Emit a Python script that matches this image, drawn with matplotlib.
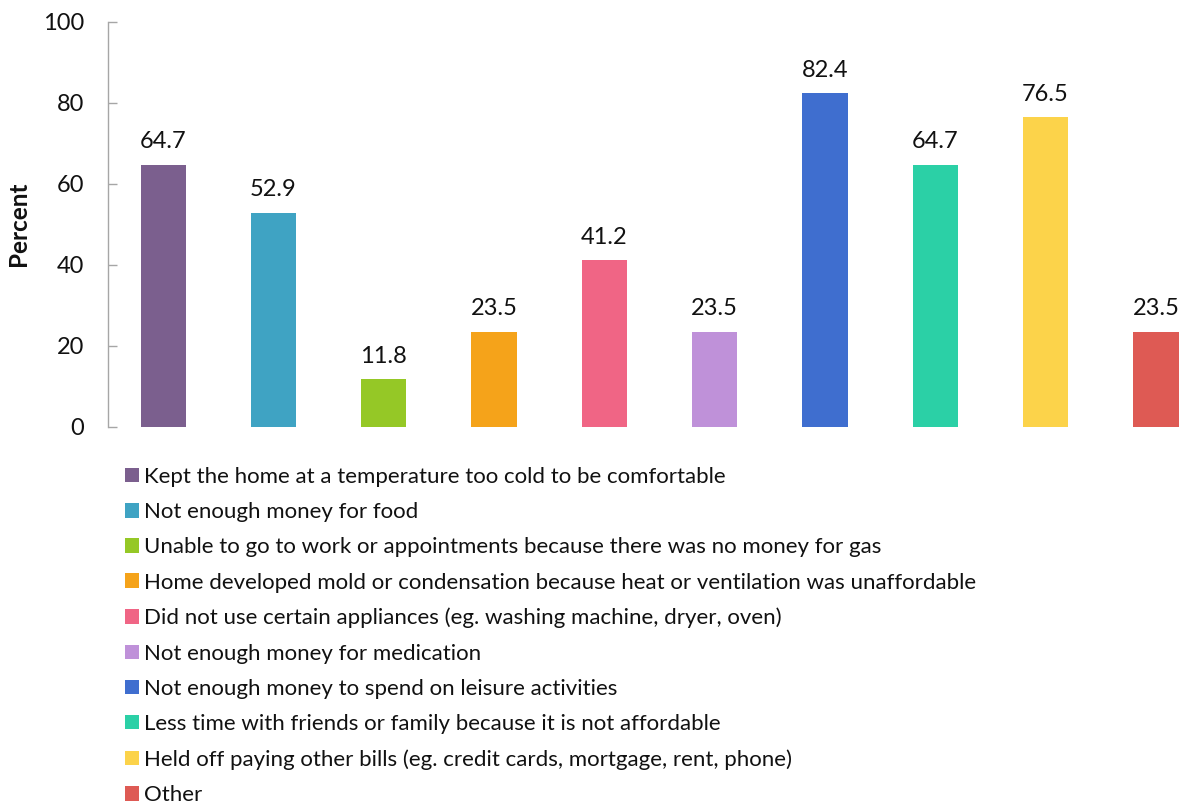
import matplotlib.pyplot as plt
from matplotlib.patches import Patch

# ── Data ──────────────────────────────────────────────────────────────────────
categories = [
    "Kept the home at a temperature too cold to be comfortable",
    "Not enough money for food",
    "Unable to go to work or appointments because there was no money for gas",
    "Home developed mold or condensation because heat or ventilation was unaffordable",
    "Did not use certain appliances (eg. washing machine, dryer, oven)",
    "Not enough money for medication",
    "Not enough money to spend on leisure activities",
    "Less time with friends or family because it is not affordable",
    "Held off paying other bills (eg. credit cards, mortgage, rent, phone)",
    "Other",
]
percent = [64.7, 52.9, 11.8, 23.5, 41.2, 23.5, 82.4, 64.7, 76.5, 23.5]
colors = [
    "#7B5F8E", "#3FA3C3", "#95C826", "#F5A31A", "#F06585",
    "#BF91D9", "#3F6ECF", "#2BD0A6", "#FCD34A", "#DE5A54",
]
yticks = [0, 20, 40, 60, 80, 100]

FONT = ["Lato", "DejaVu Sans"]
plt.rcParams["font.family"] = FONT

# ── Figure ────────────────────────────────────────────────────────────────────
W, H = 1191, 806
fig = plt.figure(figsize=(W / 100, H / 100), dpi=100, facecolor="white")
ax = fig.add_axes([108 / W, 1 - 427 / H, 1081 / W, 405 / H])

x = list(range(len(percent)))
bars = ax.bar(x, percent, width=0.41, color=colors, zorder=2)

for xi, v in zip(x, percent):
    ax.annotate(f"{v:.1f}", (xi, v), xytext=(0, 9), textcoords="offset points",
                ha="center", va="bottom", fontsize=17, color="#111111")

ax.set_xlim(-0.5, 9.3)
ax.set_ylim(0, 100)
ax.set_yticks(yticks)
ax.set_xticks([])
ax.tick_params(axis="y", direction="in", length=6.5, width=1, color="#A6A6A6",
               labelsize=17, pad=17, labelcolor="#111111")
for side in ["top", "right", "bottom"]:
    ax.spines[side].set_visible(False)
ax.spines["left"].set_color("#A6A6A6")
ax.spines["left"].set_linewidth(1)

fig.text(18 / W, 1 - 224 / H, "Percent", rotation=90, ha="center", va="center",
         fontsize=17.5, fontweight="bold", color="#111111")

# ── Legend ────────────────────────────────────────────────────────────────────
handles = [Patch(facecolor=c, edgecolor="none") for c in colors]
fig.legend(handles, categories, loc="upper left",
           bbox_to_anchor=(116 / W, 1 - 458 / H), frameon=False,
           fontsize=16, handlelength=0.63, handleheight=0.63,
           handletextpad=0.25, labelspacing=0.685, borderaxespad=0,
           labelcolor="#111111")

fig.savefig("out.png", dpi=100, facecolor="white")
